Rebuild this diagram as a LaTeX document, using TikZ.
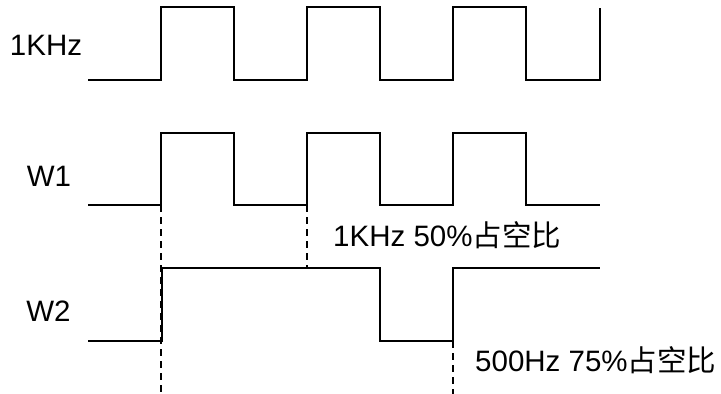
\documentclass[tikz,border=0pt]{standalone}
\usepackage{fontspec}
\setmainfont{Liberation Sans}
\newfontfamily\cjkfont{Noto Sans CJK SC}[Scale=1.0]
\begin{document}
\begin{tikzpicture}[x=1pt,y=-1pt,
  wave/.style={line width=2pt,line join=miter},
  guide/.style={line width=2pt,dash pattern=on 7pt off 5pt},
  lbl/.style={inner sep=0pt,font=\fontsize{29.5}{33}\selectfont}]
\useasboundingbox (0,0) rectangle (721,394);
% labels
\node[lbl,anchor=base] (l1) at (46,55) {1KHz};
\node[lbl,anchor=base] (lw1) at (49,186.5) {W1};
\node[lbl,anchor=base] (lw2) at (48.5,321.5) {W2};
\node[lbl,anchor=base west] (n1) at (333,246.5) {1KHz 50\%{\cjkfont 占空比}};
\node[lbl,anchor=base west] (n2) at (475,371.5) {500Hz 75\%{\cjkfont 占空比}};
% 1KHz clock
\draw[wave] (88,80) -- (161,80) -- (161,7) -- (234,7) -- (234,80) -- (307,80) -- (307,7)
  -- (380,7) -- (380,80) -- (453,80) -- (453,7) -- (526,7) -- (526,80) -- (600,80) -- (600,8);
% W1
\draw[wave] (88,205) -- (161,205) -- (161,133) -- (234,133) -- (234,205) -- (307,205) -- (307,133)
  -- (380,133) -- (380,205) -- (453,205) -- (453,133) -- (526,133) -- (526,205) -- (600,205);
% W2
\draw[wave] (88,341) -- (161.5,341) -- (161.5,268) -- (380,268) -- (380,341) -- (453,341) -- (453,268) -- (600,268);
% guides
\draw[guide] (160.5,205) -- (160.5,394);
\draw[guide] (307,205) -- (307,268);
\draw[guide] (453,341) -- (453,394);
\end{tikzpicture}
\end{document}
